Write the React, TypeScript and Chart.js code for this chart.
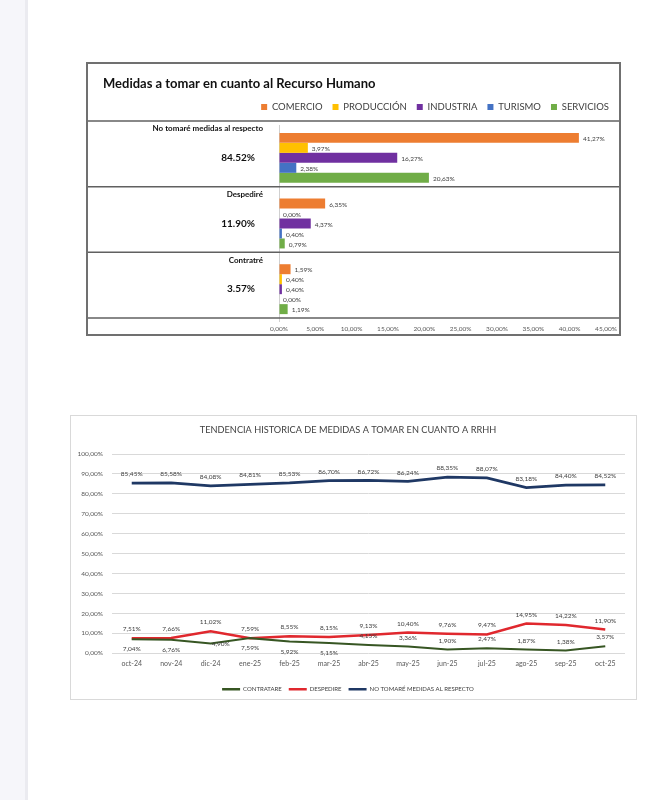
import React, { useEffect, useRef } from 'react';
import { Chart, registerables } from 'chart.js';

Chart.register(...registerables);

const FONT = "Lato, 'Noto Sans', sans-serif";

// ---------- Chart 1 data ----------
const barTitle = 'Medidas a tomar en cuanto al Recurso Humano';
const measureCategories = ['No tomaré medidas al respecto', 'Despediré', 'Contratré'];
const measureTotals = ['84.52%', '11.90%', '3.57%'];
const sectorNames = ['COMERCIO', 'PRODUCCIÓN', 'INDUSTRIA', 'TURISMO', 'SERVICIOS'];
const comercio = [41.27, 6.35, 1.59];
const produccion = [3.97, 0.0, 0.4];
const industria = [16.27, 4.37, 0.4];
const turismo = [2.38, 0.4, 0.0];
const servicios = [20.63, 0.79, 1.19];
const barAxisMax = 45;
const barAxisStep = 5;

// ---------- Chart 2 data ----------
const trendTitle = 'TENDENCIA HISTORICA DE MEDIDAS A TOMAR EN CUANTO A RRHH';
const months = ['oct-24', 'nov-24', 'dic-24', 'ene-25', 'feb-25', 'mar-25', 'abr-25', 'may-25', 'jun-25', 'jul-25', 'ago-25', 'sep-25', 'oct-25'];
const trendSeriesNames = ['CONTRATARE', 'DESPEDIRE', 'NO TOMARÉ MEDIDAS AL RESPECTO'];
const contratare = [7.04, 6.76, 4.9, 7.59, 5.92, 5.15, 4.15, 3.36, 1.9, 2.47, 1.87, 1.38, 3.57];
const despedire = [7.51, 7.66, 11.02, 7.59, 8.55, 8.15, 9.13, 10.4, 9.76, 9.47, 14.95, 14.22, 11.9];
const noTomare = [85.45, 85.58, 84.08, 84.81, 85.53, 86.7, 86.72, 86.24, 88.35, 88.07, 83.18, 84.4, 84.52];
const trendAxisMax = 100;
const trendAxisStep = 10;

// label placement (layout, not data): t = above, b = below, c = beside point
const contratarePlacement = ['b', 'b', 'c', 'b', 'b', 'b', 't', 't', 't', 't', 't', 't', 't'];
const despedirePlacement = ['t', 't', 't', 't', 't', 't', 't', 't', 't', 't', 't', 't', 't'];
const noTomarePlacement = ['t', 't', 't', 't', 't', 't', 't', 't', 't', 't', 't', 't', 't'];

const fmt = (v: number) => v.toFixed(2).replace('.', ',') + '%';

const barDecor = {
  id: 'barDecor',
  afterDatasetsDraw(chart: any) {
    const { ctx } = chart;
    const x = chart.scales.x;
    const y = chart.scales.y;
    const n = measureCategories.length;
    const step = y.getPixelForValue(1) - y.getPixelForValue(0);
    ctx.save();
    ctx.strokeStyle = '#606060';
    ctx.lineWidth = 1.5;
    for (let i = 0; i <= n; i++) {
      const yy = y.getPixelForValue(0) - step / 2 + i * step - 4;
      ctx.beginPath();
      ctx.moveTo(0, yy);
      ctx.lineTo(chart.width, yy);
      ctx.stroke();
    }
    ctx.fillStyle = '#111';
    ctx.textAlign = 'right';
    ctx.textBaseline = 'middle';
    for (let i = 0; i < n; i++) {
      const c = y.getPixelForValue(i);
      ctx.font = `bold 8px ${FONT}`;
      ctx.fillText(measureCategories[i], x.left - 16, c - 29);
      ctx.font = `bold 10px ${FONT}`;
      ctx.fillText(measureTotals[i], x.left - 24, c);
    }
    ctx.font = `6.5px ${FONT}`;
    ctx.fillStyle = '#404040';
    ctx.textAlign = 'left';
    chart.data.datasets.forEach((ds: any, di: number) => {
      const meta = chart.getDatasetMeta(di);
      meta.data.forEach((el: any, j: number) => {
        ctx.fillText(fmt(ds.data[j]), el.x + 4, el.y + 1);
      });
    });
    ctx.restore();
  },
};

const lineLabels = {
  id: 'lineLabels',
  afterDatasetsDraw(chart: any) {
    const { ctx } = chart;
    const placements = [contratarePlacement, despedirePlacement, noTomarePlacement];
    ctx.save();
    ctx.font = `6.5px ${FONT}`;
    ctx.fillStyle = '#404040';
    ctx.textAlign = 'center';
    ctx.textBaseline = 'middle';
    chart.data.datasets.forEach((ds: any, di: number) => {
      const meta = chart.getDatasetMeta(di);
      meta.data.forEach((el: any, j: number) => {
        const p = placements[di][j];
        let dy = 0;
        let dx = 0;
        if (p === 't') dy = -9;
        else if (p === 'b') dy = 10;
        else dx = 10;
        ctx.fillText(fmt(ds.data[j]), el.x + dx, el.y + dy);
      });
    });
    ctx.restore();
  },
};

function BarChart() {
  const ref = useRef<HTMLCanvasElement>(null);
  useEffect(() => {
    if (!ref.current) return;
    const colors = ['#ED7D31', '#FFC000', '#7030A0', '#4472C4', '#70AD47'];
    const series = [comercio, produccion, industria, turismo, servicios];
    const chart = new Chart(ref.current, {
      type: 'bar',
      data: {
        labels: measureCategories,
        datasets: series.map((d, i) => ({
          label: sectorNames[i],
          data: d,
          backgroundColor: colors[i],
          borderWidth: 0,
          categoryPercentage: 0.76,
          barPercentage: 1,
        })),
      },
      options: {
        indexAxis: 'y',
        responsive: false,
        animation: false,
        layout: { padding: { left: 15, right: 0, top: 0, bottom: 0 } },
        plugins: {
          tooltip: { enabled: false },
          title: {
            display: true,
            text: barTitle,
            align: 'start',
            color: '#111',
            font: { family: FONT, size: 13, weight: 'bold', lineHeight: 1 },
            padding: { top: 13.5, bottom: 1.75 },
          },
          legend: {
            display: true,
            align: 'end',
            labels: {
              boxWidth: 6,
              boxHeight: 6,
              padding: 10,
              color: '#404040',
              font: { family: FONT, size: 9.5 },
            },
          },
        },
        scales: {
          x: {
            min: 0,
            max: barAxisMax,
            ticks: {
              stepSize: barAxisStep,
              padding: 3,
              color: '#595959',
              font: { family: FONT, size: 6.5 },
              callback: (v: any) => fmt(Number(v)),
            },
            grid: {
              drawTicks: false,
              color: (c: any) => (c.tick && c.tick.value === 0 ? '#d0d0d0' : 'rgba(0,0,0,0)'),
            },
            border: { display: false },
            afterFit: (s: any) => {
              s.height = 13;
              s.paddingLeft = 0;
              s.paddingRight = 13;
            },
          },
          xTop: {
            type: 'linear',
            position: 'top',
            display: true,
            ticks: { display: false },
            grid: { display: false, drawTicks: false },
            border: { display: false },
            afterFit: (s: any) => {
              s.height = 3.25;
              s.paddingLeft = 0;
              s.paddingRight = 0;
            },
          },
          y: {
            ticks: { display: false },
            grid: { display: false },
            border: { display: false },
            afterFit: (s: any) => {
              s.width = 176;
            },
          },
        },
      },
      plugins: [barDecor],
    } as any);
    return () => chart.destroy();
  }, []);
  return (
    <canvas
      ref={ref}
      width={531}
      height={271}
      style={{ position: 'absolute', left: 88, top: 64, width: 531, height: 271 }}
    />
  );
}

function TrendChart() {
  const ref = useRef<HTMLCanvasElement>(null);
  useEffect(() => {
    if (!ref.current) return;
    const colors = ['#375623', '#E0282E', '#1F3864'];
    const widths = [2, 2.5, 2.75];
    const series = [contratare, despedire, noTomare];
    const chart = new Chart(ref.current, {
      type: 'line',
      data: {
        labels: months,
        datasets: series.map((d, i) => ({
          label: trendSeriesNames[i],
          data: d,
          borderColor: colors[i],
          backgroundColor: colors[i],
          borderWidth: widths[i],
          pointRadius: 0,
          tension: 0,
          fill: false,
        })),
      },
      options: {
        responsive: false,
        animation: false,
        layout: { padding: { left: 0, right: 11, top: 0, bottom: 3.75 } },
        plugins: {
          tooltip: { enabled: false },
          title: {
            display: true,
            text: trendTitle,
            color: '#404040',
            font: { family: FONT, size: 9.2, weight: 'normal', lineHeight: 1.2 },
            padding: { top: 8.5, bottom: 18.5 },
          },
          legend: {
            display: true,
            position: 'bottom',
            labels: {
              boxWidth: 18,
              boxHeight: 2.5,
              padding: 7,
              color: '#404040',
              font: { family: FONT, size: 6 },
              generateLabels: (ch: any) =>
                (Chart.defaults.plugins.legend.labels.generateLabels as any)(ch).map((l: any) => ({
                  ...l,
                  fillStyle: l.strokeStyle,
                  lineWidth: 0,
                })),
            },
          },
        },
        scales: {
          x: {
            offset: true,
            ticks: {
              padding: 6,
              color: '#595959',
              font: { family: FONT, size: 7 },
            },
            grid: { display: false, drawTicks: false },
            border: { display: false },
            afterFit: (s: any) => {
              s.height = 26;
            },
          },
          y: {
            min: 0,
            max: trendAxisMax,
            ticks: {
              stepSize: trendAxisStep,
              padding: 9,
              color: '#595959',
              font: { family: FONT, size: 6.5 },
              callback: (v: any) => fmt(Number(v)),
            },
            grid: { color: '#d9d9d9', lineWidth: 1, drawTicks: false },
            border: { display: false },
            afterFit: (s: any) => {
              s.width = 41;
            },
          },
        },
      },
      plugins: [lineLabels],
    } as any);
    return () => chart.destroy();
  }, []);
  return (
    <canvas
      ref={ref}
      width={565}
      height={290}
      style={{ position: 'absolute', left: 71, top: 416, width: 565, height: 290 }}
    />
  );
}

export default function App() {
  return (
    <div
      style={{
        position: 'absolute',
        left: 0,
        top: 0,
        width: 668,
        height: 800,
        background: '#ffffff',
        overflow: 'hidden',
      }}
    >
      <div
        style={{
          position: 'absolute',
          left: 0,
          top: 0,
          width: 25,
          height: 800,
          background: '#f6f6fa',
          borderRight: '3px solid #ebebf0',
        }}
      />
      <div
        style={{
          position: 'absolute',
          left: 86,
          top: 62,
          width: 535,
          height: 274,
          boxSizing: 'border-box',
          border: '2px solid #707070',
        }}
      />
      <BarChart />
      <div
        style={{
          position: 'absolute',
          left: 70,
          top: 415,
          width: 567,
          height: 285,
          boxSizing: 'border-box',
          border: '1px solid #d9d9d9',
        }}
      />
      <TrendChart />
    </div>
  );
}
